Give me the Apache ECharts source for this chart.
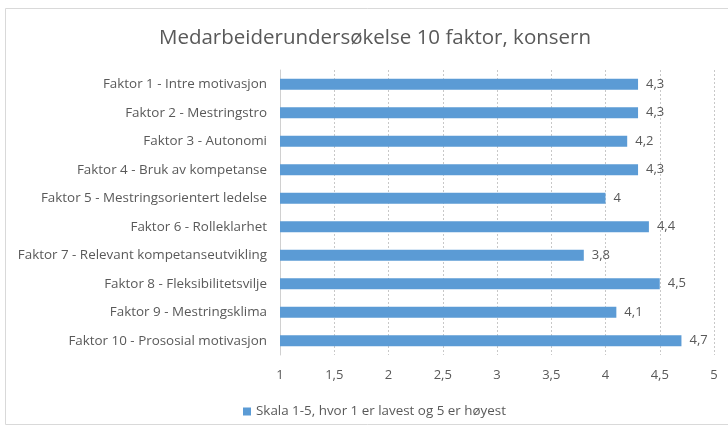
<!DOCTYPE html>
<html>
<head>
<meta charset="utf-8">
<script src="https://cdn.jsdelivr.net/npm/echarts@6/dist/echarts.min.js"></script>
<style>
  html, body { margin: 0; padding: 0; background: #fff; }
  #chart { width: 728px; height: 427px; }
</style>
</head>
<body>
<div id="chart"></div>
<script>
var titleText = 'Medarbeiderundersøkelse 10 faktor, konsern';
var seriesName = 'Skala 1-5, hvor 1 er lavest og 5 er høyest';
var categories = [
  'Faktor 1 - Intre motivasjon',
  'Faktor 2 - Mestringstro',
  'Faktor 3 - Autonomi',
  'Faktor 4 - Bruk av kompetanse',
  'Faktor 5 - Mestringsorientert ledelse',
  'Faktor 6 - Rolleklarhet',
  'Faktor 7 - Relevant kompetanseutvikling',
  'Faktor 8 - Fleksibilitetsvilje',
  'Faktor 9 - Mestringsklima',
  'Faktor 10 - Prososial motivasjon'
];
var values = [4.3, 4.3, 4.2, 4.3, 4, 4.4, 3.8, 4.5, 4.1, 4.7];

function comma(v) { return String(v).replace('.', ','); }

var chart = echarts.init(document.getElementById('chart'));
chart.setOption({
  animation: false,
  textStyle: { fontFamily: 'Open Sans, sans-serif' },
  graphic: [{
    type: 'rect',
    shape: { x: 5.5, y: 8.5, width: 730, height: 416 },
    style: { fill: 'none', stroke: '#d9d9d9', lineWidth: 1 },
    silent: true
  }],
  title: {
    text: titleText,
    left: 370,
    textAlign: 'center',
    top: 23,
    textStyle: { fontSize: 20.5, fontWeight: 'normal', color: '#595959', fontFamily: 'Open Sans, sans-serif' }
  },
  legend: {
    data: [seriesName],
    left: 238,
    top: 400,
    itemWidth: 8,
    itemHeight: 8,
    itemGap: 4,
    icon: 'rect',
    textStyle: { fontSize: 13.4, color: '#595959' }
  },
  grid: { left: 280, right: 14, top: 70, bottom: 72, containLabel: false },
  xAxis: {
    type: 'value',
    min: 1,
    max: 5,
    interval: 0.5,
    axisLine: { show: false },
    axisTick: { show: false },
    axisLabel: { color: '#595959', fontSize: 13, margin: 14, formatter: comma },
    splitLine: { show: true, lineStyle: { color: '#c8c8c8', type: [2, 2] } }
  },
  yAxis: {
    type: 'category',
    data: categories,
    inverse: true,
    axisLine: { show: true, lineStyle: { color: '#d0d0d0' } },
    axisTick: { show: false },
    axisLabel: { color: '#595959', fontSize: 13.4, margin: 13 }
  },
  series: [{
    name: seriesName,
    type: 'bar',
    data: values,
    barWidth: 11,
    itemStyle: { color: '#5b9bd5' },
    label: {
      show: true,
      position: 'right',
      distance: 8,
      color: '#595959',
      fontSize: 13,
      formatter: function (p) { return comma(p.value); }
    }
  }]
});
</script>
</body>
</html>
